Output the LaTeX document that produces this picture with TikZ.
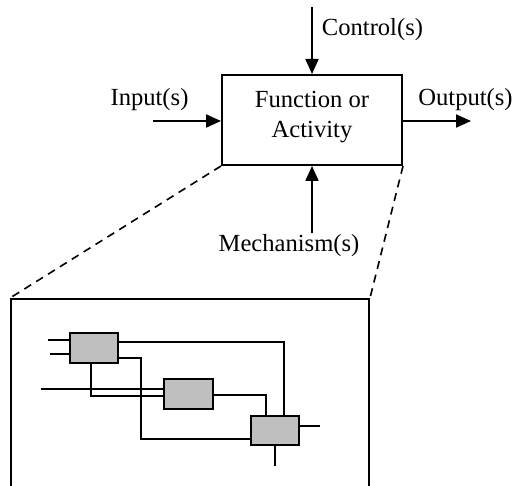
\documentclass[tikz,border=0pt]{standalone}
\usepackage{fontspec}
\setmainfont{Liberation Serif}
\usetikzlibrary{arrows.meta}
\begin{document}
\begin{tikzpicture}[x=1pt,y=-1pt,
  wire/.style={line width=2pt},
  flow/.style={line width=2pt,-{Triangle[length=15pt,width=13pt]}},
  label/.style={font=\fontsize{24.6}{30}\selectfont,anchor=base,inner sep=0pt},
  activity/.style={draw,line width=2pt,minimum width=180pt,minimum height=90pt,inner sep=0pt},
  subbox/.style={draw,line width=2pt,fill=black!25,minimum width=48.5pt,minimum height=29.5pt,inner sep=0pt},
  zoomline/.style={line width=1.6pt,dash pattern=on 8pt off 6pt}]
\clip (0,0) rectangle (514,486);
\useasboundingbox (0,0) rectangle (514,486);

% top-level activity box
\node[activity] (act) at (312,120) {};
\node[label] (fn1) at (312,108) {Function or};
\node[label] (fn2) at (312,138) {Activity};

% ICOM arrows and their labels
\coordinate (ctl) at (312,7);
\coordinate (inp) at (153,121);
\coordinate (outp) at (471,121);
\coordinate (mech) at (312,233);
\draw[flow] (ctl) -- (act.north);
\draw[flow] (inp) -- (act.west |- inp);
\draw[flow] (act.east |- outp) -- (outp);
\draw[flow] (mech) -- (act.south);
\node[label,anchor=base west] (ctltext) at (321.7,35.5) {Control(s)};
\node[label] (inptext) at (149.5,106) {Input(s)};
\node[label] (outtext) at (465.5,106) {Output(s)};
\node[label] (mechtext) at (289,251.5) {Mechanism(s)};

% decomposition frame (continues below the page edge)
\node[draw,line width=2pt,minimum width=358pt,minimum height=230pt,inner sep=0pt,anchor=north west] (detail) at (10,298) {};
\draw[zoomline] (act.south west) -- (detail.north west);
\draw[zoomline] (act.south east) -- (detail.north east);

% child activities
\node[subbox] (a) at (94,348) {};
\node[subbox] (b) at (188.5,394) {};
\node[subbox] (c) at (275,430.5) {};

\coordinate (a1) at (48,340);
\coordinate (a2) at (50,354);
\coordinate (bin) at (41,389);
\coordinate (cout) at (320,426);
\coordinate (cmech) at (275,466);

\draw[wire] (a1) -- (a.west |- a1);
\draw[wire] (a2) -- (a.west |- a2);
\draw[wire] (bin) -- (b.west |- bin);
\draw[wire] (a.east |- 0,342) -| (284,0 |- c.north);
\draw[wire] (a.east |- 0,358) -| (141,439) -- (c.west |- 0,439);
\draw[wire] (91,0 |- a.south) |- (b.west |- 0,396);
\draw[wire] (b.east |- 0,395) -| (266,0 |- c.north);
\draw[wire] (c.east |- cout) -- (cout);
\draw[wire] (c.south -| cmech) -- (cmech);
\end{tikzpicture}
\end{document}
